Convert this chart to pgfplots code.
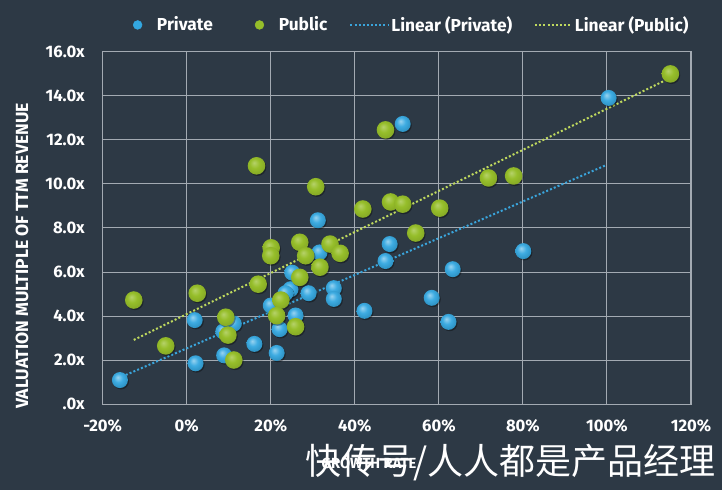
\documentclass[border=0pt]{standalone}
\usepackage{fontspec}
\setmainfont{Fira Sans}
\newfontfamily\cjk{Noto Sans CJK SC}
\usepackage{pgfplots}
\pgfplotsset{compat=1.18}

\definecolor{bg}{HTML}{2D3945}
\definecolor{gridc}{HTML}{A3AAB2}
\definecolor{blueC}{HTML}{33A7E0}
\definecolor{greenC}{HTML}{96BE2A}
\definecolor{blueL}{HTML}{3AA5DC}
\definecolor{greenL}{HTML}{BFD95E}

% soft balls, highlight up left
\pgfdeclareradialshading{blueball}{\pgfqpoint{-7bp}{9bp}}{%
  color(0bp)=(blueC!50!white); color(14bp)=(blueC!95!white);
  color(30bp)=(blueC!85!black); color(50bp)=(blueC!70!black)}
\pgfdeclareradialshading{greenball}{\pgfqpoint{-7bp}{9bp}}{%
  color(0bp)=(greenC!70!white); color(14bp)=(greenC);
  color(30bp)=(greenC!88!black); color(50bp)=(greenC!75!black)}
\pgfdeclareplotmark{bball}{%
  \begin{pgfscope}\pgfsetfillopacity{0.35}\color{black}
  \pgfpathcircle{\pgfpoint{0.8pt}{-1pt}}{\pgfplotmarksize}\pgfusepath{fill}\end{pgfscope}
  \pgfpathcircle{\pgfpointorigin}{\pgfplotmarksize}\pgfshadepath{blueball}{0}\pgfusepath{discard}}
\pgfdeclareplotmark{gball}{%
  \begin{pgfscope}\pgfsetfillopacity{0.35}\color{black}
  \pgfpathcircle{\pgfpoint{0.8pt}{-1pt}}{\pgfplotmarksize}\pgfusepath{fill}\end{pgfscope}
  \pgfpathcircle{\pgfpointorigin}{\pgfplotmarksize}\pgfshadepath{greenball}{0}\pgfusepath{discard}}
\tikzset{trend/.style={line width=1.5pt, dash pattern=on 1.5pt off 1.6pt}}

\begin{document}
\begin{tikzpicture}[x=0.75pt,y=0.75pt]
% 1 unit = 1 px of the 722x490 reference, y from the bottom
\fill[bg] (0,0) rectangle (722,490);
\useasboundingbox (0,0) rectangle (722,490);
\begin{axis}[
  at={(77.03pt,64.28pt)}, anchor=south west,
  scale only axis, width=441.2pt, height=264.5pt,
  xmin=-20, xmax=120, ymin=0, ymax=16,
  xtick={-20,0,...,120}, ytick={0,2,...,16},
  xticklabels={-20\%,0\%,20\%,40\%,60\%,80\%,100\%,120\%},
  yticklabels={.0x,2.0x,4.0x,6.0x,8.0x,10.0x,12.0x,14.0x,16.0x},
  major tick length=0pt,
  grid=major, grid style={gridc, line width=0.8pt},
  axis line style={gridc, line width=0.8pt},
  tick label style={white, font=\bfseries\fontsize{12.5}{14}\selectfont},
  xticklabel style={yshift=-8pt},
  yticklabel style={xshift=-10pt},
  clip=false,
  legend columns=-1,
  legend style={at={(0.051,1.0757)}, anchor=west, draw=none, fill=none,
    inner sep=0pt, text=white, font=\bfseries\fontsize{13}{15}\selectfont,
    nodes={inner sep=1pt},
    /tikz/every odd column/.append style={column sep=1pt},
    /tikz/every even column/.append style={column sep=15.5pt}},
]
\addplot[only marks, mark=bball, mark size=6pt,
  legend image code/.code={\fill[blueC] (0,0) circle (3.3pt); \path[draw=none] (0,0) -- (12.5pt,0);}]
  coordinates {
  (-15.9,1.10) (2.1,1.86) (1.9,3.82) (8.9,2.22) (8.7,3.30) (11.2,3.66)
  (16.1,2.74) (21.4,2.33) (22.1,3.41) (20.0,4.48) (25.1,5.97) (24.7,5.22)
  (23.5,5.04) (25.9,4.03) (29.0,5.04) (31.2,8.35) (31.6,6.89) (35.0,5.27)
  (35.0,4.78) (42.3,4.24) (48.3,7.27) (47.3,6.50) (63.3,6.13) (58.3,4.83)
  (62.3,3.74) (80.1,6.95) (51.4,12.72) (100.4,13.90)
  };
\addlegendentry{Private}
\addplot[only marks, mark=gball, mark size=6.6pt,
  legend image code/.code={\fill[greenC] (0,0) circle (3.3pt); \path[draw=none] (-18.5pt,0) -- (12.5pt,0);}]
  coordinates {
  (-12.6,4.73) (-5.0,2.65) (2.5,5.04) (9.3,3.95) (9.8,3.14) (11.2,2.01)
  (17.0,5.45) (16.6,10.82) (20.1,7.10) (20.0,6.74) (22.4,4.73) (21.4,4.02)
  (25.9,3.52) (26.9,7.35) (28.3,6.74) (26.9,5.76) (31.7,6.22) (34.1,7.27)
  (36.5,6.85) (30.7,9.87) (41.9,8.86) (47.3,12.45) (48.5,9.18) (51.4,9.08)
  (60.2,8.90) (54.5,7.77) (71.8,10.27) (77.8,10.36) (115.1,14.99)
  };
\addlegendentry{Public}
\addplot[blueL, trend,
  legend image code/.code={\draw[blueL, trend] (0,0) -- (28pt,0);}]
  coordinates {(-14.5,1.33) (99.9,10.86)};
\addlegendentry{Linear (Private)}
\addplot[greenL, trend,
  legend image code/.code={\draw[greenL, trend] (0,0) -- (27pt,0);}]
  coordinates {(-12.6,2.92) (113.9,14.70)};
\addlegendentry{Linear (Public)}
\end{axis}
\node[white, rotate=90, font=\bfseries\fontsize{13.2}{15}\selectfont] at (22,234) {VALUATION MULTIPLE OF TTM REVENUE};
\node[white, font=\bfseries\fontsize{11}{13}\selectfont] at (369,27) {GROWTH RATE};
\node[white, font=\cjk\fontsize{27}{30}\selectfont, anchor=east, inner sep=0pt] at (716,27) {快传号/人人都是产品经理};
\end{tikzpicture}
\end{document}
